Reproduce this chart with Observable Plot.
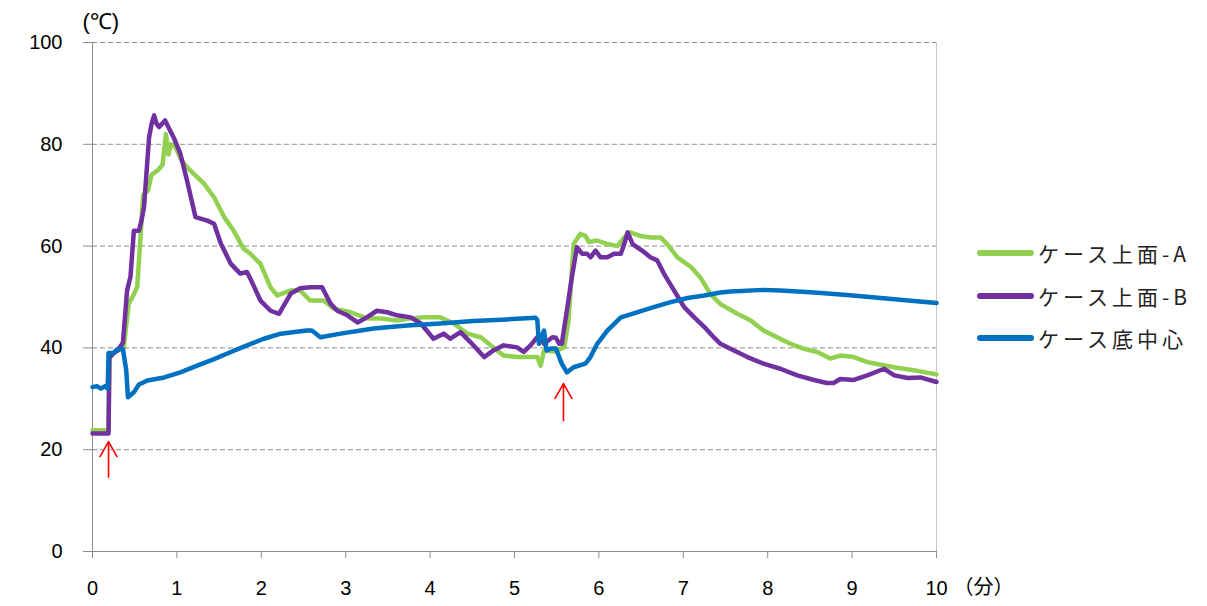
<!DOCTYPE html>
<html>
<head>
<meta charset="utf-8">
<script src="https://cdn.jsdelivr.net/npm/d3@7"></script>
<script src="https://cdn.jsdelivr.net/npm/@observablehq/plot@0.6"></script>
<style>
  html, body { margin: 0; padding: 0; background: #fff; }
  #wrap { position: relative; width: 1207px; height: 606px; }
  #legend { position: absolute; left: 977px; top: 232px; font-family: "Noto Sans CJK JP", sans-serif; font-size: 21px; color: #222; }
  .row { display: flex; align-items: center; height: 42.5px; }
  .sw { width: 57px; height: 6px; border-radius: 3px; margin-right: 4px; }
  .lab { letter-spacing: 4px; }
</style>
</head>
<body>
<div id="wrap"><div id="legend"></div></div>
<script>
// ---- data (time in minutes, temperature in °C) ----
const seriesNames = ["ケース上面-A", "ケース上面-B", "ケース底中心"];
const seriesColors = ["#92d050", "#7030a0", "#0070c0"];

const timeA = [0,0.19,0.2,0.3,0.37,0.43,0.49,0.53,0.57,0.6,0.66,0.7,0.78,0.83,0.87,0.9,0.93,0.98,1.05,1.12,1.2,1.32,1.44,1.56,1.67,1.79,1.87,1.99,2.11,2.19,2.35,2.46,2.58,2.74,2.86,3.06,3.25,3.41,3.61,3.77,3.93,4.12,4.28,4.44,4.6,4.75,4.87,5.03,5.23,5.27,5.31,5.35,5.47,5.59,5.64,5.7,5.78,5.84,5.88,5.98,6.1,6.22,6.3,6.37,6.49,6.61,6.73,6.81,6.93,7.09,7.2,7.32,7.44,7.64,7.8,7.95,8.11,8.27,8.43,8.59,8.74,8.86,9.02,9.18,9.34,9.53,9.73,10];
const tempA = [23.8,23.8,38.5,39.5,40,48.7,50.5,52,62,70,71,74,75,76,82,78,80,79.5,77,75.5,74.2,72.3,69.6,65.7,63.1,59.5,58.5,56.5,51.9,50.3,51.3,51.3,49.3,49.3,47.7,47,45.8,45.8,45.4,45.8,46,46,44.8,42.8,42.1,40.1,38.5,38.2,38.2,38.2,36.5,39.5,39.3,40.1,45.4,60.4,62.4,62,60.8,61.1,60.4,60,61.7,62.7,62,61.7,61.7,60.4,57.8,55.9,53.9,50.6,48.6,46.7,45.4,43.4,42.1,40.8,39.8,39.2,37.9,38.5,38.2,37.2,36.7,36.1,35.6,34.8];

const timeB = [0,0.19,0.2,0.25,0.3,0.36,0.41,0.45,0.49,0.55,0.58,0.61,0.67,0.7,0.73,0.76,0.79,0.86,0.91,0.96,1.04,1.12,1.22,1.36,1.44,1.52,1.64,1.75,1.83,1.87,1.99,2.11,2.21,2.35,2.46,2.58,2.72,2.82,2.9,3.02,3.14,3.25,3.37,3.49,3.61,3.77,3.89,4.04,4.16,4.24,4.36,4.48,4.64,4.75,4.87,5.03,5.11,5.19,5.27,5.31,5.35,5.45,5.49,5.53,5.56,5.62,5.68,5.74,5.8,5.86,5.9,5.96,6.02,6.1,6.18,6.26,6.3,6.34,6.4,6.45,6.53,6.61,6.69,6.77,6.89,7.01,7.13,7.25,7.36,7.44,7.6,7.76,7.95,8.15,8.35,8.55,8.7,8.78,8.86,9.02,9.18,9.38,9.5,9.66,9.81,10];
const tempB = [23.2,23.2,38,39,39.5,41,51.3,54,63,63,65,67.6,81.3,84,85.7,84,83.4,84.7,83,81.4,78.2,72.9,65.7,65,64.4,60.5,56.5,54.6,54.9,53.6,49.3,47.3,46.7,50.7,51.7,51.9,51.9,48.7,47.3,46.4,45,46,47.3,47,46.4,46,44.8,41.8,42.8,41.8,43.1,41.1,38.2,39.5,40.5,40.1,39.2,40.5,42.1,42.3,40.8,42.1,42,40.8,40.8,47.3,53.9,59.8,58.5,58.5,57.8,59.1,57.8,57.8,58.5,58.5,60.4,62.7,60.4,59.8,58.9,57.8,57.2,54.6,51.3,48,46,44.1,42.1,40.8,39.5,38.2,36.9,35.9,34.6,33.7,33.1,33.1,33.9,33.7,34.6,35.9,34.6,34.1,34.2,33.3];

const timeC = [0,0.05,0.1,0.15,0.18,0.19,0.25,0.3,0.36,0.4,0.42,0.49,0.55,0.65,0.85,1.04,1.24,1.44,1.64,1.83,2.03,2.23,2.54,2.6,2.7,2.94,3.33,3.73,4.12,4.51,4.91,5.25,5.27,5.29,5.35,5.38,5.43,5.49,5.53,5.56,5.62,5.7,5.84,5.9,5.98,6.1,6.26,6.45,6.65,6.85,7.05,7.25,7.44,7.56,7.95,8.15,8.55,8.94,9.34,9.73,10];
const tempC = [32.3,32.5,32,32.5,32,39,39,39.8,39.8,35.6,30.3,31.3,32.8,33.6,34.2,35.2,36.5,37.8,39.2,40.5,41.8,42.8,43.4,43.4,42.1,42.8,43.8,44.4,44.8,45.3,45.6,45.9,45.5,40.8,43.4,39.5,39.9,39.9,38.2,36.9,35.2,36.2,36.9,38.2,40.8,43.4,46,47,48,49,49.8,50.3,50.9,51.1,51.4,51.3,50.9,50.4,49.8,49.2,48.8];

const xTicks = [0,1,2,3,4,5,6,7,8,9,10];
const yTicks = [0,20,40,60,80,100];
const yUnit = "(℃)";
const xUnit = "（分）";

// annotation arrows (heat-on markers): time, tail temp, tip temp
const arrowTime = [0.19, 5.58];
const arrowTail = [14.6, 25.7];
const arrowTip = [21.6, 33.0];

// ---- build table ----
const rows = [];
[[timeA, tempA], [timeB, tempB], [timeC, tempC]].forEach(([ts, vs], i) => {
  ts.forEach((t, j) => rows.push({series: seriesNames[i], t, v: vs[j]}));
});
const arrows = arrowTime.map((t, i) => ({t, y1: arrowTail[i], y2: arrowTip[i]}));

// open-headed arrow shape for Plot.vector
const openArrow = {
  draw(context, l) {
    const w = 8.5, h = 15;
    context.moveTo(0, 0);
    context.lineTo(0, -l);
    context.moveTo(-w, -l + h);
    context.lineTo(0, -l);
    context.lineTo(w, -l + h);
  }
};

const plotMarginTop = 42, plotMarginBottom = 55, plotHeight = 606;
const pxPerUnit = (plotHeight - plotMarginTop - plotMarginBottom) / 100;

const chart = Plot.plot({
  width: 1207,
  height: plotHeight,
  marginLeft: 92,
  marginRight: 271,
  marginTop: plotMarginTop,
  marginBottom: plotMarginBottom,
  style: {fontFamily: "'Liberation Sans', Arial, sans-serif", fontSize: "20px", background: "#fff"},
  x: {domain: [0, 10]},
  y: {domain: [0, 100]},
  length: {type: "identity"},
  color: {domain: seriesNames, range: seriesColors},
  marks: [
    Plot.gridY({ticks: yTicks.filter(d => d > 0), stroke: "#8c8c8c", strokeOpacity: 1, strokeDasharray: "5,3", strokeWidth: 1}),
    Plot.ruleX([10], {stroke: "#c8c8c8"}),
    Plot.ruleX([0], {stroke: "#8c8c8c"}),
    Plot.ruleY([0], {stroke: "#8c8c8c"}),
    Plot.axisY({ticks: yTicks, tickSize: 9, tickPadding: 21, stroke: "#8c8c8c", fill: "#000", fontSize: 20, label: null}),
    Plot.axisX({ticks: xTicks, tickSize: 7, tickPadding: 22, stroke: "#8c8c8c", fill: "#000", fontSize: 20, label: null}),
    Plot.line(rows, {x: "t", y: "v", z: "series", stroke: "series", strokeWidth: 4.5, strokeLinejoin: "round", strokeLinecap: "round"}),
    Plot.vector(arrows, {x: "t", y: "y2", anchor: "end", rotate: 0, length: d => (d.y2 - d.y1) * pxPerUnit, shape: openArrow, stroke: "red", strokeWidth: 1.6, fill: "none"}),
    Plot.text([yUnit], {frameAnchor: "top-left", textAnchor: "start", lineAnchor: "middle", dx: -10, dy: -21, fontSize: 22, fill: "#000"}),
    Plot.text([xUnit], {frameAnchor: "bottom-right", textAnchor: "start", lineAnchor: "middle", dx: 17, dy: 36, fontSize: 20, fill: "#000", fontFamily: "'Noto Sans CJK JP', sans-serif"})
  ]
});
document.getElementById("wrap").prepend(chart);

const legend = document.getElementById("legend");
seriesNames.forEach((name, i) => {
  const row = document.createElement("div");
  row.className = "row";
  const sw = document.createElement("div");
  sw.className = "sw";
  sw.style.background = seriesColors[i];
  const lab = document.createElement("span");
  lab.className = "lab";
  lab.textContent = name;
  row.append(sw, lab);
  legend.append(row);
});
</script>
</body>
</html>
